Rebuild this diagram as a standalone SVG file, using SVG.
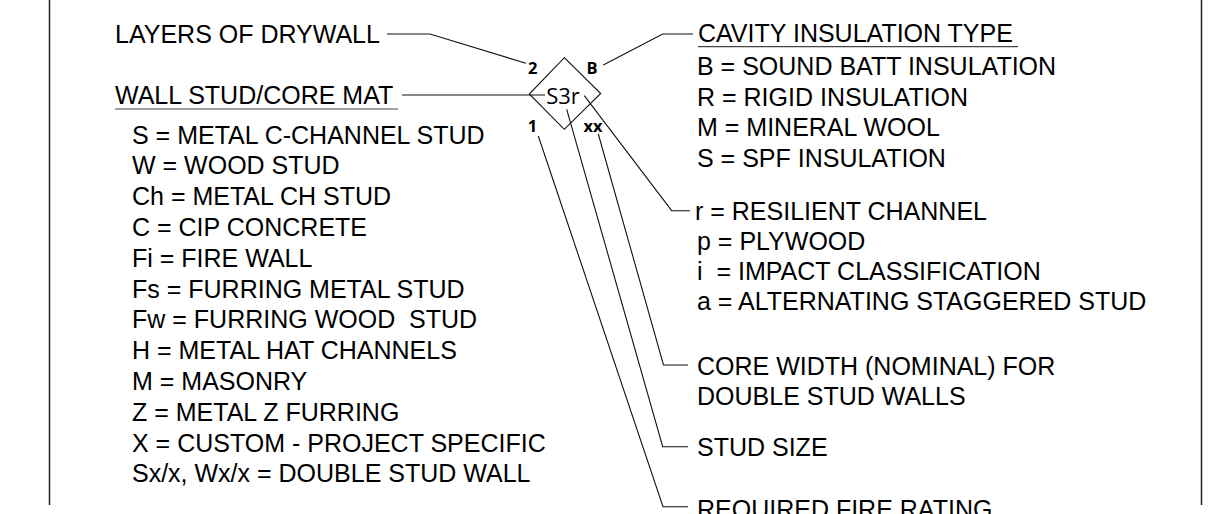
<svg xmlns="http://www.w3.org/2000/svg" width="1213" height="514" viewBox="0 0 1213 514">
<style>
.t{font-family:"Liberation Sans",Arial,sans-serif;font-size:25px;fill:#000;white-space:pre}
.b{font-family:"Open Sans","DejaVu Sans",sans-serif;font-size:16.5px;font-weight:700;fill:#000;text-anchor:middle}
.m{font-family:"Open Sans","DejaVu Sans",sans-serif;font-size:22px;fill:#000;text-anchor:middle}
.c{fill:none;stroke:#111;stroke-width:1.1}
.u{stroke:#444;stroke-width:1.2}
.f{stroke:#222;stroke-width:1.5}
</style>
<rect width="1213" height="514" fill="#fff"/>
<g id="frame">
<line class="f" x1="49.5" y1="0" x2="49.5" y2="505"/>
<line class="f" x1="1201.5" y1="0" x2="1201.5" y2="505"/>
</g>
<g id="tag">
<polygon class="c" points="564.3,57.7 600.7,93.5 564.3,129.3 529.3,94"/>
<text class="m" x="563" y="104">S3r</text>
<text class="b" x="532.8" y="74">2</text>
<text class="b" x="592" y="74">B</text>
<text class="b" x="532.5" y="131.7">1</text>
<text class="b" x="593" y="131.7">xx</text>
</g>
<g id="connectors">
<polyline class="c" points="387,34 430,34 526,63.3"/>
<polyline class="c" points="402,95 545,95"/>
<polyline class="c" points="603.3,65 662.7,34 693,34"/>
<polyline class="c" points="584.3,95.7 671.7,210.7 690,210.7"/>
<polyline class="c" points="598.3,134 663.5,365 688,365"/>
<polyline class="c" points="566.7,109.3 662.7,446.7 688,446.7"/>
<polyline class="c" points="538.3,136 663,506.7 688,506.7"/>
</g>
<g id="layers">
<text class="t" x="115" y="42.7">LAYERS OF DRYWALL</text>
</g>
<g id="core-mat">
<text class="t" x="115" y="104.3">WALL STUD/CORE MAT</text>
<line class="u" x1="115" y1="109" x2="398" y2="109"/>
<text class="t" x="132" y="143.5">S = METAL C-CHANNEL STUD</text>
<text class="t" x="132" y="174.3">W = WOOD STUD</text>
<text class="t" x="132" y="205.1">Ch = METAL CH STUD</text>
<text class="t" x="132" y="235.9">C = CIP CONCRETE</text>
<text class="t" x="132" y="266.7">Fi = FIRE WALL</text>
<text class="t" x="132" y="297.5">Fs = FURRING METAL STUD</text>
<text class="t" x="132" y="328.3">Fw = FURRING WOOD  STUD</text>
<text class="t" x="132" y="359.1">H = METAL HAT CHANNELS</text>
<text class="t" x="132" y="389.9">M = MASONRY</text>
<text class="t" x="132" y="420.7">Z = METAL Z FURRING</text>
<text class="t" x="132" y="451.5">X = CUSTOM - PROJECT SPECIFIC</text>
<text class="t" x="132" y="482.3">Sx/x, Wx/x = DOUBLE STUD WALL</text>
</g>
<g id="insulation">
<text class="t" x="698" y="42">CAVITY INSULATION TYPE</text>
<line class="u" x1="698" y1="46.7" x2="1018" y2="46.7"/>
<text class="t" x="697" y="75">B = SOUND BATT INSULATION</text>
<text class="t" x="697" y="105.5">R = RIGID INSULATION</text>
<text class="t" x="697" y="136">M = MINERAL WOOL</text>
<text class="t" x="697" y="166.5">S = SPF INSULATION</text>
</g>
<g id="options">
<text class="t" x="695" y="220">r = RESILIENT CHANNEL</text>
<text class="t" x="697" y="250">p = PLYWOOD</text>
<text class="t" x="697" y="280">i  = IMPACT CLASSIFICATION</text>
<text class="t" x="697" y="310">a = ALTERNATING STAGGERED STUD</text>
</g>
<g id="core-width">
<text class="t" x="697" y="374.5">CORE WIDTH (NOMINAL) FOR</text>
<text class="t" x="697" y="404.5">DOUBLE STUD WALLS</text>
</g>
<g id="stud-size">
<text class="t" x="697" y="456">STUD SIZE</text>
</g>
<g id="fire-rating">
<text class="t" x="697" y="518">REQUIRED FIRE RATING</text>
</g>
</svg>
